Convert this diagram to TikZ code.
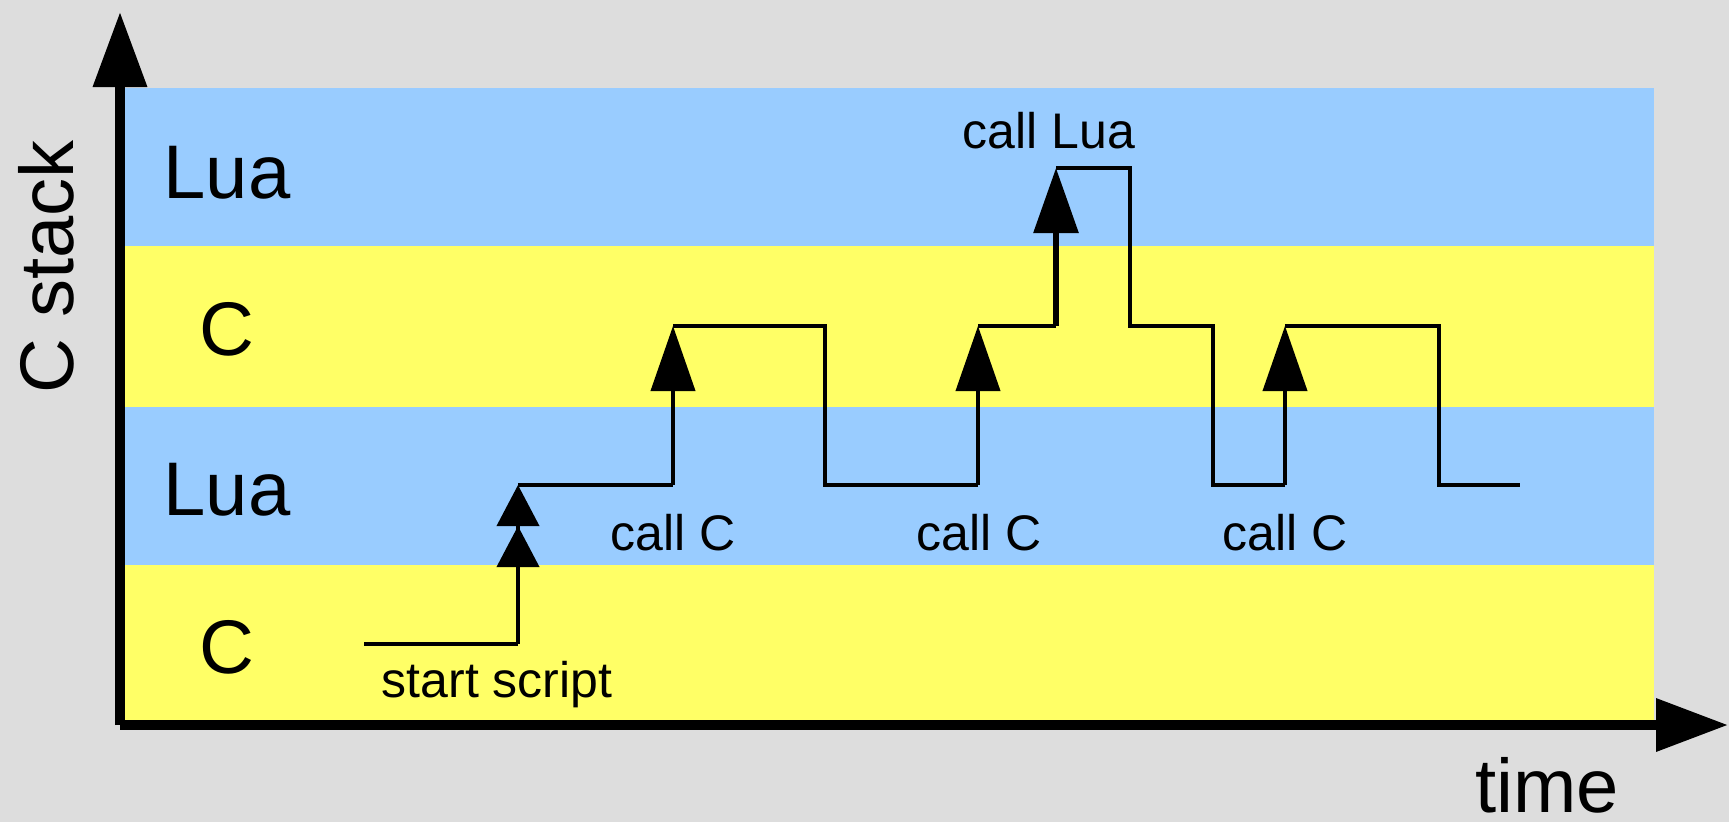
\documentclass[tikz,border=0pt]{standalone}
\usepackage{fontspec}
\setmainfont{Liberation Sans}
\usetikzlibrary{arrows.meta}
\definecolor{bg}{HTML}{DDDDDD}
\definecolor{luablue}{HTML}{99CCFF}
\definecolor{cyellow}{HTML}{FFFF66}
\begin{document}
\begin{tikzpicture}[x=1pt,y=-1pt,
  band/.style={draw=none},
  axisline/.style={line width=10pt},
  sig/.style={line width=4pt, line join=miter},
  callarrow/.style={-{Triangle[length=65pt,width=44pt]}},
  startarrow/.style={-{Triangle[length=41pt,width=42pt,sep=0pt] Triangle[length=41pt,width=42pt]}},
  biglabel/.style={font=\fontsize{76}{90}\selectfont, inner sep=0pt},
  smalllabel/.style={font=\fontsize{50}{60}\selectfont, inner sep=0pt}]
\useasboundingbox (0,0) rectangle (1729,822);
\fill[bg] (0,0) rectangle (1729,822);
% bands
\fill[luablue] (120,88) rectangle (1654,246);
\fill[cyellow] (120,246) rectangle (1654,407);
\fill[luablue] (120,407) rectangle (1654,565);
\fill[cyellow] (120,565) rectangle (1654,722);
% band labels
\node[biglabel, anchor=base] (lua2) at (227,198) {Lua};
\node[biglabel, anchor=base] (c2) at (227,355) {C};
\node[biglabel, anchor=base] (lua1) at (227,515) {Lua};
\node[biglabel, anchor=base] (c1) at (227,673) {C};
% axes
\coordinate (origin) at (120,725);
\coordinate (ytip) at (120,12);
\coordinate (xtip) at (1728,725);
\draw[axisline, -{Triangle[length=75pt,width=52pt]}] (origin) -- (ytip);
\draw[axisline, -{Triangle[length=72pt,width=51pt]}] (origin) -- (xtip);
\node[biglabel, rotate=90] (cstack) at (46,267) {C stack};
\node[biglabel, anchor=base] (time) at (1547,812) {time};
% signal coordinates
\coordinate (p0) at (364,644);
\coordinate (p1) at (518,644);
\coordinate (p2) at (518,485);
\coordinate (p3) at (673,485);
\coordinate (p4) at (673,326);
\coordinate (p5) at (825,326);
\coordinate (p6) at (825,485);
\coordinate (p7) at (978,485);
\coordinate (p8) at (978,326);
\coordinate (p9) at (1056,326);
\coordinate (p10) at (1056,168);
\coordinate (p11) at (1130,168);
\coordinate (p12) at (1130,326);
\coordinate (p13) at (1213,326);
\coordinate (p14) at (1213,485);
\coordinate (p15) at (1285,485);
\coordinate (p16) at (1285,326);
\coordinate (p17) at (1439,326);
\coordinate (p18) at (1439,485);
\coordinate (p19) at (1520,485);
\draw[sig] (p0) -- (p1);
\draw[sig, startarrow] (p1) -- (p2);
\draw[sig] (p2) -- (p3);
\draw[sig, callarrow] (p3) -- (p4);
\draw[sig] (p4) -- (p5) -- (p6) -- (p7);
\draw[sig, callarrow] (p7) -- (p8);
\draw[sig] (p8) -- (p9);
\draw[sig, line width=6pt, callarrow] (p9) -- (p10);
\draw[sig] (p10) -- (p11) -- (p12) -- (p13) -- (p14) -- (p15);
\draw[sig, callarrow] (p15) -- (p16);
\draw[sig] (p16) -- (p17) -- (p18) -- (p19);
% small labels
\node[smalllabel, anchor=base] (start) at (497,697) {start script};
\node[smalllabel, anchor=base] (callc1) at (673,550) {call C};
\node[smalllabel, anchor=base] (callc2) at (979,550) {call C};
\node[smalllabel, anchor=base] (callc3) at (1285,550) {call C};
\node[smalllabel, anchor=base] (calllua) at (1049,148) {call Lua};
\end{tikzpicture}
\end{document}
